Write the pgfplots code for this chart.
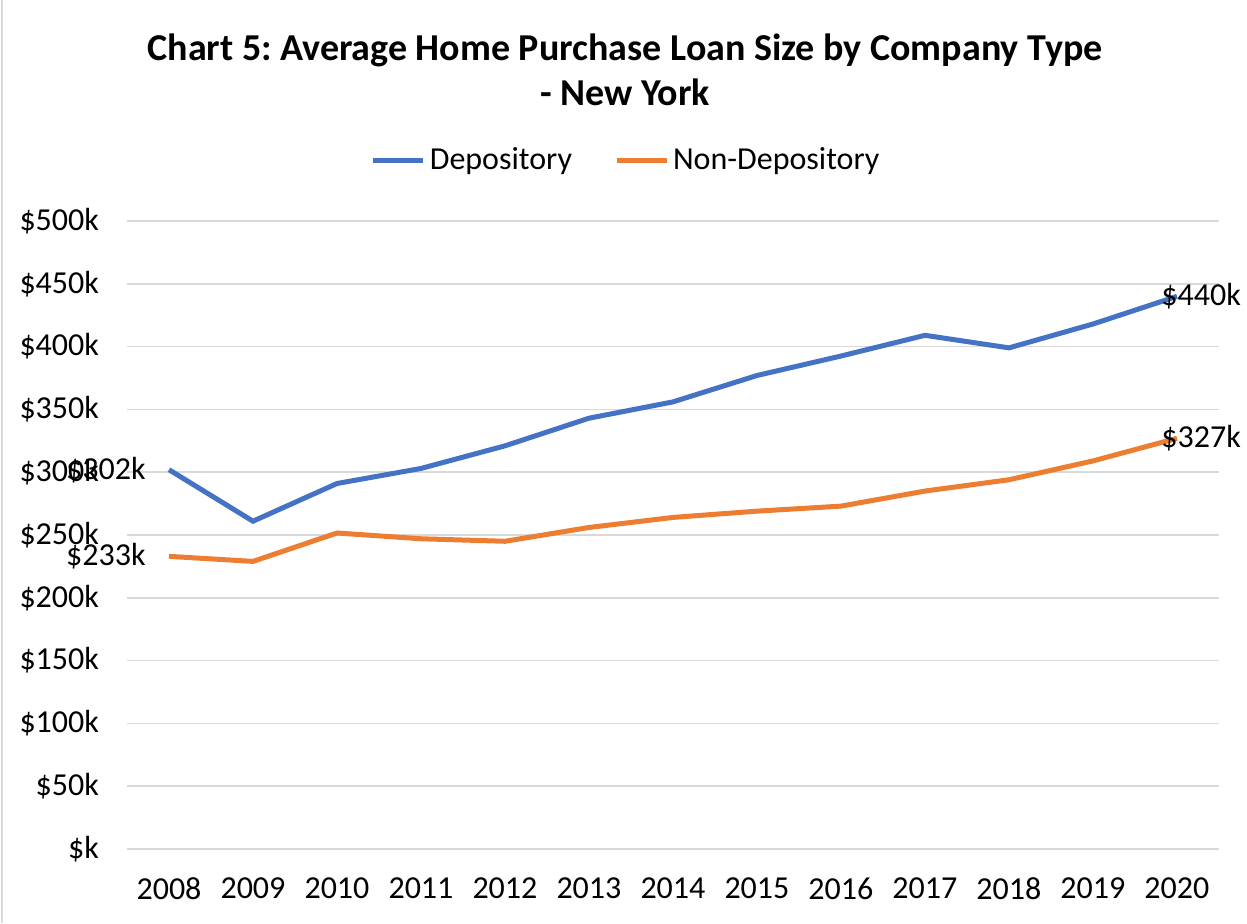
\documentclass[border=0pt]{standalone}
\usepackage{pgfplots}
\pgfplotsset{compat=1.18}
\usepackage{fontspec}
\setmainfont{Carlito}
\frenchspacing
\definecolor{dep}{HTML}{4472C4}
\definecolor{ndep}{HTML}{ED7D31}
\definecolor{gridc}{HTML}{D9D9D9}
\begin{document}
\begin{tikzpicture}
\path[use as bounding box] (-63.5pt,-37pt) rectangle (560pt,424.5pt);
\draw[gridc, line width=1pt] (-62.5pt,-37pt) -- (-62.5pt,424.5pt);
\begin{axis}[
  at={(0pt,0pt)}, anchor=south west,
  scale only axis, width=546pt, height=314pt,
  xmin=2007.5, xmax=2020.5, ymin=0, ymax=500,
  axis line style={draw=none},
  tick style={draw=none},
  xtick={2008,...,2020},
  xticklabels={2008,2009,2010,2011,2012,2013,2014,2015,2016,2017,2018,2019,2020},
  ytick={0,50,...,500},
  yticklabels={\$k,\$50k,\$100k,\$150k,\$200k,\$250k,\$300k,\$350k,\$400k,\$450k,\$500k},
  ymajorgrids, grid style={gridc, line width=0.75pt},
  ticklabel style={font=\fontsize{16}{18}\selectfont},
  yticklabel style={xshift=-10.5pt},
  xticklabel style={yshift=-11pt},
  /pgf/number format/assume math mode=true,
  legend columns=2,
  legend style={at={(0.458,1.097)}, anchor=center, draw=none, fill=none,
    font=\fontsize{16}{18}\selectfont,
    /tikz/every even column/.append style={column sep=19pt}},
  legend image code/.code={\draw[#1] (0pt,0pt) -- (25pt,0pt);},
  clip=false,
]
\addplot[dep, line width=2.5pt] coordinates {
 (2008,302) (2009,261) (2010,291) (2011,303) (2012,321) (2013,343) (2014,356)
 (2015,377) (2016,392.5) (2017,409) (2018,399) (2019,418) (2020,440)};
\addlegendentry{Depository}
\addplot[ndep, line width=2.5pt] coordinates {
 (2008,233) (2009,229) (2010,251.6) (2011,247) (2012,245) (2013,256) (2014,264)
 (2015,269) (2016,273) (2017,285) (2018,294) (2019,309) (2020,327)};
\addlegendentry{Non-Depository}
\node[anchor=east, font=\fontsize{16}{18}\selectfont, inner sep=0pt] at (axis cs:2008,302) [xshift=-11.5pt] {\$302k};
\node[anchor=east, font=\fontsize{16}{18}\selectfont, inner sep=0pt] at (axis cs:2008,233) [xshift=-11.5pt] {\$233k};
\node[anchor=west, font=\fontsize{16}{18}\selectfont, inner sep=0pt] at (axis cs:2020,440) [xshift=-8pt] {\$440k};
\node[anchor=west, font=\fontsize{16}{18}\selectfont, inner sep=0pt] at (axis cs:2020,327) [xshift=-8pt] {\$327k};
\end{axis}
\node[font=\bfseries\fontsize{19}{22.5}\selectfont, align=center] at (249pt,389.5pt)
  {Chart 5: Average Home Purchase Loan Size by Company Type\\- New York};
\end{tikzpicture}
\end{document}
